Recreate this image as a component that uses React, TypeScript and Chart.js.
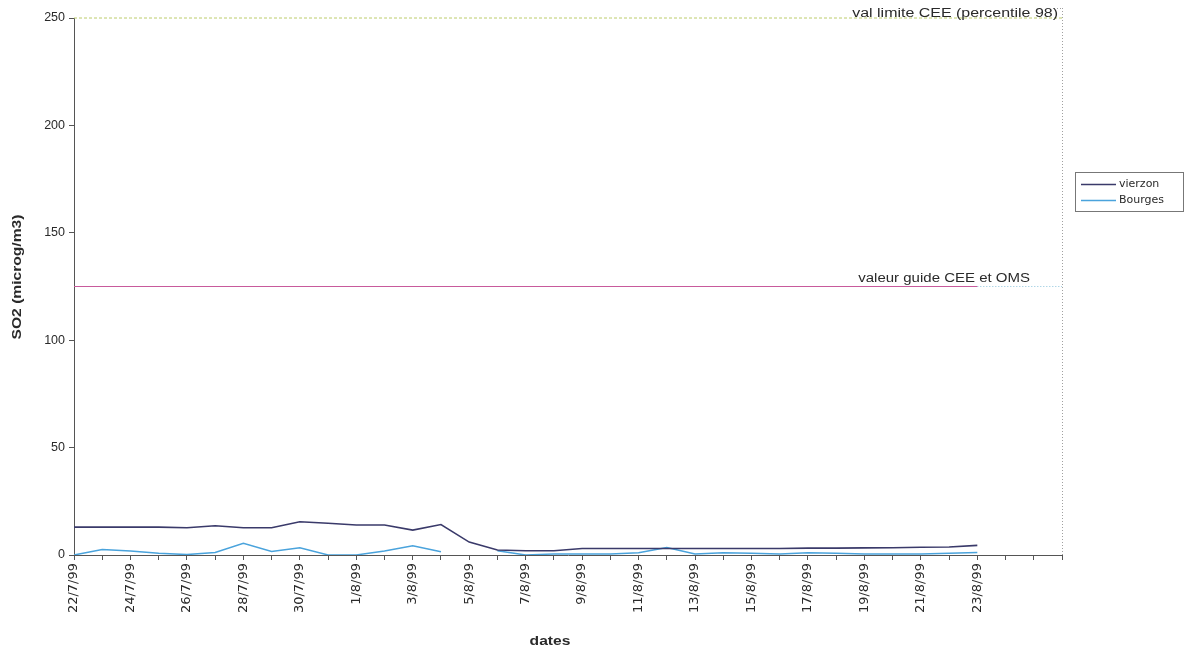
import React, { useEffect, useRef } from "react";
import { Chart, registerables } from "chart.js";

Chart.register(...registerables);

const dates: string[] = [
  "22/7/99", "23/7/99", "24/7/99", "25/7/99", "26/7/99", "27/7/99", "28/7/99", "29/7/99", "30/7/99", "31/7/99",
  "1/8/99", "2/8/99", "3/8/99", "4/8/99", "5/8/99", "6/8/99", "7/8/99", "8/8/99", "9/8/99", "10/8/99",
  "11/8/99", "12/8/99", "13/8/99", "14/8/99", "15/8/99", "16/8/99", "17/8/99", "18/8/99", "19/8/99", "20/8/99",
  "21/8/99", "22/8/99", "23/8/99", "24/8/99", "25/8/99", "26/8/99",
];

const vierzon: (number | null)[] = [
  13, 13, 13, 13, 12.7, 13.6, 12.7, 12.7, 15.5, 14.8,
  14, 14, 11.6, 14.2, 6, 2.3, 2, 2, 3, 3,
  3, 3, 3, 3, 3, 3, 3.2, 3.2, 3.3, 3.4,
  3.6, 3.7, 4.5, null, null, null,
];

const bourges: (number | null)[] = [
  0, 2.6, 1.9, 0.8, 0.2, 1.2, 5.4, 1.6, 3.4, 0,
  0, 1.9, 4.3, 1.5, null, 2, 0, 0.5, 0.5, 0.5,
  1, 3.5, 0.5, 1, 0.8, 0.5, 1, 0.8, 0.5, 0.5,
  0.5, 0.8, 1.2, null, null, null,
];

const limitValue = 250;
const guideValue = 125;
const limitLabel = "val limite CEE (percentile 98)";
const guideLabel = "valeur guide CEE et OMS";
const seriesNames = ["vierzon", "Bourges"];
const yTicks = [0, 50, 100, 150, 200, 250];
const yTitle = "SO2 (microg/m3)";
const xTitle = "dates";

const limitLine = dates.map(() => limitValue);
const guideLine = dates.map((_, i) => (i <= 32 ? guideValue : null));
const guideExt = dates.map((_, i) => (i >= 32 ? guideValue : null));

const FONT = "'Liberation Sans', Arial, sans-serif";
const WIDE = "'DejaVu Sans', sans-serif";
const VIERZON_COLOR = "#3a3a6a";
const BOURGES_COLOR = "#4aa3dc";
const TEXT = "#2a2a2a";

const decorPlugin = {
  id: "decor",
  afterDatasetsDraw(chart: any) {
    const { ctx, chartArea } = chart;
    const y = chart.scales.y;
    ctx.save();
    // right dotted border of plot area
    ctx.strokeStyle = "#a0a0a0";
    ctx.lineWidth = 1;
    ctx.setLineDash([1, 2]);
    ctx.beginPath();
    ctx.moveTo(chartArea.right + 0.5, 8);
    ctx.lineTo(chartArea.right + 0.5, chartArea.bottom);
    ctx.moveTo(chartArea.right - 8, 8.5);
    ctx.lineTo(chartArea.right + 0.5, 8.5);
    ctx.stroke();
    ctx.setLineDash([]);

    // labels on reference lines (stretched horizontally like the original)
    ctx.fillStyle = TEXT;
    ctx.font = `12px ${FONT}`;
    ctx.textAlign = "right";
    ctx.textBaseline = "alphabetic";
    ctx.save();
    ctx.translate(chartArea.right - 4, y.getPixelForValue(limitValue) - 1);
    ctx.scale(1.33, 1);
    ctx.fillText(limitLabel, 0, 0);
    ctx.restore();
    ctx.save();
    ctx.translate(chartArea.right - 32, y.getPixelForValue(guideValue) - 5);
    ctx.scale(1.25, 1);
    ctx.fillText(guideLabel, 0, 0);
    ctx.restore();

    // axis titles
    ctx.font = `bold 12px ${FONT}`;
    ctx.textAlign = "center";
    ctx.textBaseline = "middle";
    ctx.save();
    ctx.translate(18, 277);
    ctx.rotate(-Math.PI / 2);
    ctx.scale(1.3, 1);
    ctx.fillText(yTitle, 0, 0);
    ctx.restore();
    ctx.save();
    ctx.translate(550, 642);
    ctx.scale(1.3, 1);
    ctx.fillText(xTitle, 0, 0);
    ctx.restore();

    // legend
    const lx = 1075, ly = 172, lw = 108, lh = 39;
    ctx.strokeStyle = "#777";
    ctx.lineWidth = 1;
    ctx.strokeRect(lx + 0.5, ly + 0.5, lw, lh);
    const rows = [
      { name: seriesNames[0], color: VIERZON_COLOR, yy: ly + 12 },
      { name: seriesNames[1], color: BOURGES_COLOR, yy: ly + 28 },
    ];
    ctx.font = `11px ${WIDE}`;
    ctx.textAlign = "left";
    ctx.textBaseline = "middle";
    rows.forEach((r) => {
      ctx.strokeStyle = r.color;
      ctx.lineWidth = 1.4;
      ctx.beginPath();
      ctx.moveTo(lx + 6, r.yy + 0.5);
      ctx.lineTo(lx + 41, r.yy + 0.5);
      ctx.stroke();
      ctx.fillStyle = TEXT;
      ctx.fillText(r.name, lx + 44, r.yy);
    });
    ctx.restore();
  },
};

export default function App() {
  const canvasRef = useRef<HTMLCanvasElement | null>(null);

  useEffect(() => {
    if (!canvasRef.current) return;
    const chart = new Chart(canvasRef.current, {
      type: "line",
      data: {
        labels: dates,
        datasets: [
          {
            label: "limit",
            data: limitLine,
            borderColor: "#bccc6a",
            borderWidth: 1,
            borderDash: [3, 2],
            pointRadius: 0,
            clip: 10,
          },
          {
            label: "guide",
            data: guideLine,
            borderColor: "#c85a9c",
            borderWidth: 1.2,
            pointRadius: 0,
          },
          {
            label: "guideExt",
            data: guideExt,
            borderColor: "#8cc4dc",
            borderWidth: 1,
            borderDash: [1, 2],
            pointRadius: 0,
          },
          {
            label: seriesNames[0],
            data: vierzon,
            borderColor: VIERZON_COLOR,
            borderWidth: 1.6,
            pointRadius: 0,
            spanGaps: false,
          },
          {
            label: seriesNames[1],
            data: bourges,
            borderColor: BOURGES_COLOR,
            borderWidth: 1.5,
            pointRadius: 0,
            spanGaps: false,
          },
        ],
      },
      options: {
        responsive: false,
        animation: false,
        devicePixelRatio: 1,
        layout: { padding: { top: 18, right: 123, left: 0, bottom: 0 } },
        plugins: {
          legend: { display: false },
          tooltip: { enabled: false },
        },
        scales: {
          x: {
            type: "category",
            offset: false,
            border: { display: true, color: "#555", width: 1 },
            grid: { drawOnChartArea: false, drawTicks: true, tickLength: 5, color: "#555" },
            ticks: {
              autoSkip: false,
              maxRotation: 90,
              minRotation: 90,
              padding: 3,
              color: TEXT,
              font: { family: WIDE, size: 13 },
              callback: (_v: any, i: number) => (i % 2 === 0 && i <= 32 ? dates[i] : ""),
            },
            title: { display: false, text: xTitle },
            afterFit: (s: any) => {
              s.height = 95;
            },
          },
          y: {
            min: 0,
            max: 250,
            afterBuildTicks: (s: any) => {
              s.ticks = yTicks.map((v) => ({ value: v }));
            },
            border: { display: true, color: "#555", width: 1 },
            grid: { drawOnChartArea: false, drawTicks: true, tickLength: 5, color: "#555" },
            ticks: {
              padding: 4,
              color: TEXT,
              font: { family: FONT, size: 12.5 },
            },
            title: { display: false, text: yTitle },
            afterFit: (s: any) => {
              s.width = 74;
            },
          },
        },
      },
      plugins: [decorPlugin],
    } as any);
    return () => chart.destroy();
  }, []);

  return (
    <div style={{ position: "fixed", left: 0, top: 0, width: 1185, height: 650, background: "#fff" }}>
      <canvas ref={canvasRef} width={1185} height={650} style={{ display: "block" }} />
    </div>
  );
}
